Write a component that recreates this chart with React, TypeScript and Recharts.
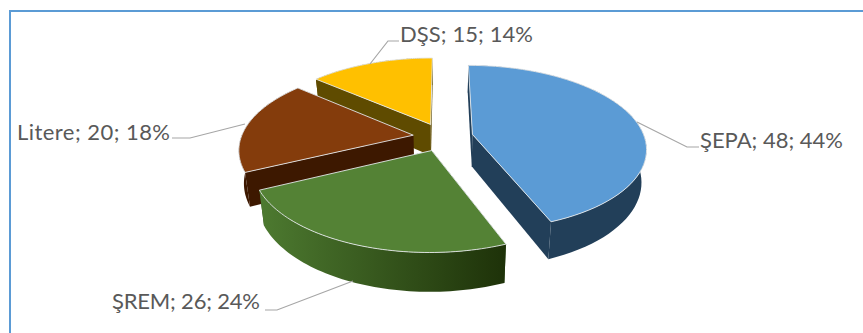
import React from 'react';
import { PieChart, Pie } from 'recharts';

// painted back to front, so the slices run counter-clockwise from 12 o'clock
const categories = ['DŞS', 'Litere', 'ŞREM', 'ŞEPA'];
const counts = [15, 20, 26, 48];

const chartData = categories.map((name, i) => ({ name, value: counts[i] }));

const TOP_COLORS: Record<string, string> = {
  'ŞEPA': '#5b9bd5',
  'ŞREM': '#548235',
  'Litere': '#843c0c',
  'DŞS': '#ffc000',
};

const SIDE_COLORS: Record<string, string> = {
  'ŞEPA': '#223f59',
  'ŞREM': 'url(#remRim)',
  'Litere': '#3d1800',
  'DŞS': '#5f4b00',
};

// leader line, text position and text width of each label
const LABELS: Record<string, { line: number[][]; x: number; y: number; width: number }> = {
  'ŞEPA': { line: [[637, 122], [687, 147], [699, 147]], x: 700, y: 148, width: 143 },
  'ŞREM': { line: [[353, 281], [277, 310], [265, 310]], x: 112, y: 309, width: 148 },
  'Litere': { line: [[245, 124], [190, 138], [172, 138]], x: 17, y: 140, width: 153 },
  'DŞS': { line: [[370, 64], [388, 41], [399, 41]], x: 400, y: 42, width: 133 },
};

const TILT = 0.47;
const PERSPECTIVE = 0.16;
const EXPLODE = 0.175;
const DEPTH = 32;
const BOTTOM_SHRINK = 0.975;

const rad = (deg: number) => (deg * Math.PI) / 180;

const Slice3D = (props: any) => {
  const { cx, cy, outerRadius, startAngle, endAngle, name } = props;
  const mid = (startAngle + endAngle) / 2;
  const ox = Math.cos(rad(mid)) * EXPLODE;
  const oy = -Math.sin(rad(mid)) * EXPLODE;

  // unit circle point on the pie plane -> screen, y grows towards the viewer
  const top = (ux: number, uy: number) => {
    const wx = ux + ox;
    const wy = uy + oy;
    const s = 1 / (1 - PERSPECTIVE * wy);
    return [cx + outerRadius * wx * s, cy + outerRadius * TILT * wy * s, s];
  };
  const bottom = (ux: number, uy: number) => {
    const [x, y, s] = top(ux, uy);
    return [cx + (x - cx) * BOTTOM_SHRINK, y + DEPTH * s];
  };

  const angles: number[] = [];
  const steps = 60;
  for (let i = 0; i <= steps; i++) angles.push(startAngle + ((endAngle - startAngle) * i) / steps);
  const unit = angles.map((a) => [Math.cos(rad(a)), -Math.sin(rad(a))]);

  const pts = (list: number[][]) => list.map((p) => `${p[0]},${p[1]}`).join(' ');
  const topArc = unit.map(([u, v]) => top(u, v));
  const bottomArc = unit.map(([u, v]) => bottom(u, v));
  const side = SIDE_COLORS[name];
  const wallColor = name === 'ŞREM' ? '#2c4a18' : side;
  const first = unit[0];
  const last = unit[steps];

  return (
    <g>
      <defs>
        <linearGradient id="remRim" gradientUnits="userSpaceOnUse" x1="260" y1="0" x2="505" y2="0">
          <stop offset="0" stopColor="#4d7a30" />
          <stop offset="1" stopColor="#1e3209" />
        </linearGradient>
      </defs>
      <polygon points={pts([top(0, 0), top(first[0], first[1]), bottom(first[0], first[1]), bottom(0, 0)])} fill={wallColor} />
      <polygon points={pts([top(0, 0), top(last[0], last[1]), bottom(last[0], last[1]), bottom(0, 0)])} fill={wallColor} />
      <polygon points={pts([...topArc, ...bottomArc.slice().reverse()])} fill={side} />
      <polygon
        points={pts([top(0, 0), ...topArc])}
        fill={TOP_COLORS[name]}
        stroke="#e4e8ea"
        strokeWidth={0.9}
        strokeLinejoin="round"
      />
    </g>
  );
};

const SliceLabel = (props: any) => {
  const { name, value, percent } = props;
  const layout = LABELS[name];
  return (
    <g>
      <polyline
        points={layout.line.map((p) => p.join(',')).join(' ')}
        fill="none"
        stroke="#a6a6a6"
        strokeWidth={1.2}
      />
      <text
        x={layout.x}
        y={layout.y}
        fill="#595959"
        fontFamily="Lato"
        fontSize={22}
        textAnchor="start"
        textLength={layout.width}
        lengthAdjust="spacing"
      >
        {`${name}; ${value}; ${Math.round(percent * 100)}%`}
      </text>
    </g>
  );
};

export default function App() {
  return (
    <div style={{ position: 'absolute', left: 0, top: 0, width: 863, height: 333, overflow: 'hidden', background: '#fff' }}>
      <div
        style={{
          position: 'absolute',
          left: 9,
          top: 10,
          width: 900,
          height: 400,
          borderLeft: '2px solid #5b9bd5',
          borderTop: '2px solid #5b9bd5',
        }}
      />
      <div style={{ position: 'absolute', left: 0, top: 0 }}>
        <PieChart width={863} height={333}>
          <Pie
            data={chartData}
            dataKey="value"
            nameKey="name"
            cx={438}
            cy={132}
            outerRadius={172}
            startAngle={90}
            endAngle={450}
            shape={Slice3D}
            label={SliceLabel}
            labelLine={false}
            isAnimationActive={false}
          />
        </PieChart>
      </div>
    </div>
  );
}
